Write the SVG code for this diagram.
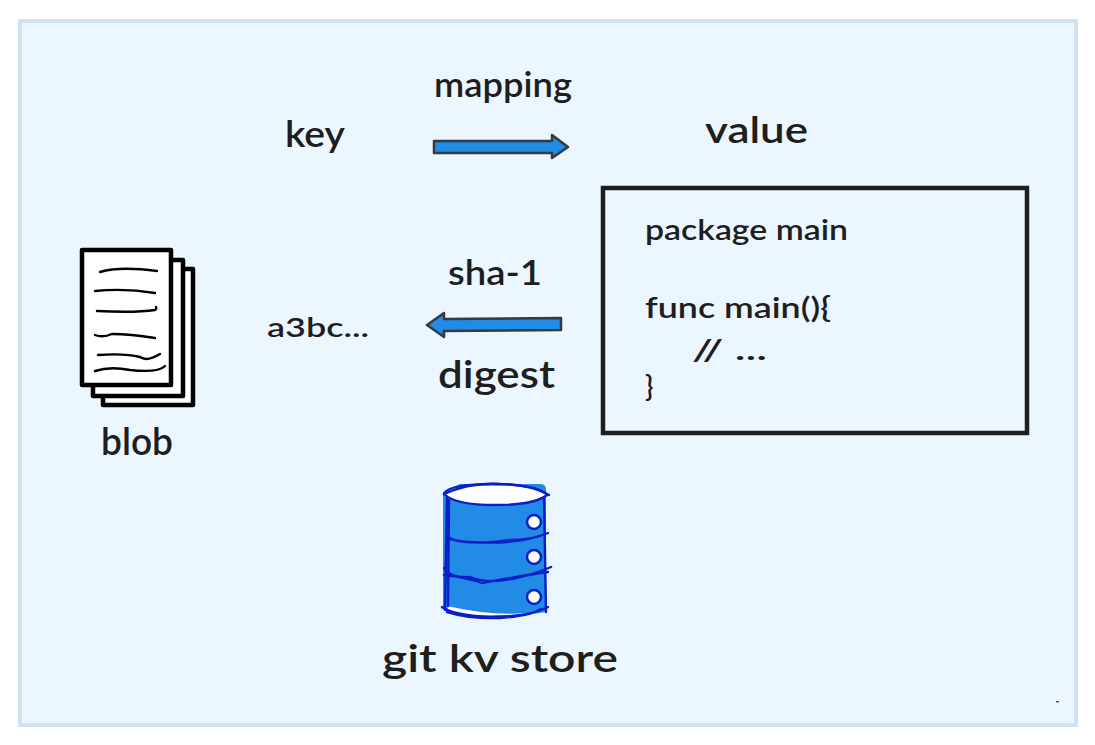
<svg xmlns="http://www.w3.org/2000/svg" width="1095" height="745" viewBox="0 0 1095 745">
<style>
text{font-family:"Lato","Open Sans","Liberation Sans",sans-serif;fill:#1e1e1e;font-weight:600}
.a{fill:#228be6;stroke:#343a40;stroke-width:2.5;stroke-linejoin:round}
.p{fill:#fff;stroke:#000;stroke-width:4.5;stroke-linejoin:round}
.l{fill:none;stroke:#000;stroke-width:2.4;stroke-linecap:round}
.c{fill:none;stroke:#0a1fc8;stroke-width:2.4;stroke-linecap:round;stroke-linejoin:round}
.d{fill:#fff;stroke:#0a1fc8;stroke-width:2.5}
</style>
<rect id="background" x="20" y="21" width="1056" height="704" fill="#ebf6ff" stroke="#cfe2f5" stroke-width="4"/>
<rect x="1056" y="701" width="3" height="1.5" fill="#555"/>
<g id="key"><text x="285" y="147" font-size="36" textLength="60" lengthAdjust="spacingAndGlyphs">key</text></g>
<g id="value"><text x="705" y="143" font-size="36" textLength="103" lengthAdjust="spacingAndGlyphs">value</text></g>
<g id="mapping"><text x="434" y="97" font-size="34" textLength="138" lengthAdjust="spacingAndGlyphs">mapping</text></g>
<g id="sha1"><text x="448" y="285" font-size="34" textLength="94" lengthAdjust="spacingAndGlyphs">sha-1</text></g>
<g id="digest"><text x="438" y="388" font-size="38" textLength="117" lengthAdjust="spacingAndGlyphs">digest</text></g>
<g id="hash"><text x="267" y="337" font-size="26" textLength="102" lengthAdjust="spacingAndGlyphs">a3bc...</text></g>
<g id="code">
<rect x="603" y="188" width="424" height="245" fill="none" stroke="#1e1e1e" stroke-width="4.5"/>
<text x="645" y="240" font-size="28" textLength="203" lengthAdjust="spacingAndGlyphs">package main</text>
<text x="645" y="318" font-size="28" textLength="186" lengthAdjust="spacingAndGlyphs">func main(){</text>
<text x="692" y="360" font-size="28" textLength="75" lengthAdjust="spacingAndGlyphs">// ...</text>
<text x="645" y="397" font-size="28">}</text>
</g>
<g id="connectors">
<path class="a" d="M434 141L552 141L552 135L568 147L552 158L552 153L434 153Z"/>
<path class="a" d="M561 318L444 319L444 313L427 325L444 337L444 331L561 330Z"/>
</g>
<g id="blob">
<rect class="p" x="103" y="269" width="90" height="136"/>
<rect class="p" x="93" y="260" width="90" height="136"/>
<rect class="p" x="82" y="250" width="89" height="135"/>
<path class="l" d="M100 272Q120 266 157 271"/>
<path class="l" d="M95 291Q125 288 155 293"/>
<path class="l" d="M97 311Q135 313 155 310Q157 309 156 307"/>
<path class="l" d="M95 335Q103 338 112 334Q130 334 155 338"/>
<path class="l" d="M98 355Q125 353 140 357Q147 362 160 354"/>
<path class="l" d="M95 371Q110 366 130 370Q158 373 165 366"/>
<text x="101" y="455" font-size="38" textLength="72" lengthAdjust="spacingAndGlyphs">blob</text>
</g>
<g id="store">
<path d="M443 492L460 484L541 484Q546 484 546 490L546 612Q500 621 448 612L443 606Z" fill="#228be6"/>
<path d="M447 606L449 613Q490 618 530 613Q490 616 447 606Z" fill="#fff"/>
<ellipse cx="495" cy="494" rx="51" ry="11" fill="#fff"/>
<path class="c" d="M444 494Q448 484 495 484Q540 485 547 495Q535 505 495 505Q455 505 444 494Z"/>
<path class="c" d="M444 494Q470 482 500 484Q530 484 549 495"/>
<path class="c" d="M447 497L445 610M449 500L448 606M544 497L546 612"/>
<path class="c" d="M447 535Q450 541 470 542Q520 545 548 533M447 538Q470 546 510 540Q530 540 545 534"/>
<path class="c" d="M444 568Q450 578 470 577Q490 585 520 577Q535 574 551 567M444 575Q470 578 482 583Q520 576 548 572"/>
<path class="c" d="M442 607Q452 615 490 617Q530 617 548 607M447 612Q470 619 500 618Q530 616 541 609"/>
<circle class="d" cx="534" cy="522" r="7"/>
<circle class="d" cx="534" cy="557" r="7"/>
<circle class="d" cx="534" cy="597" r="7"/>
<text x="382" y="672" font-size="38" textLength="236" lengthAdjust="spacingAndGlyphs">git kv store</text>
</g>
</svg>
